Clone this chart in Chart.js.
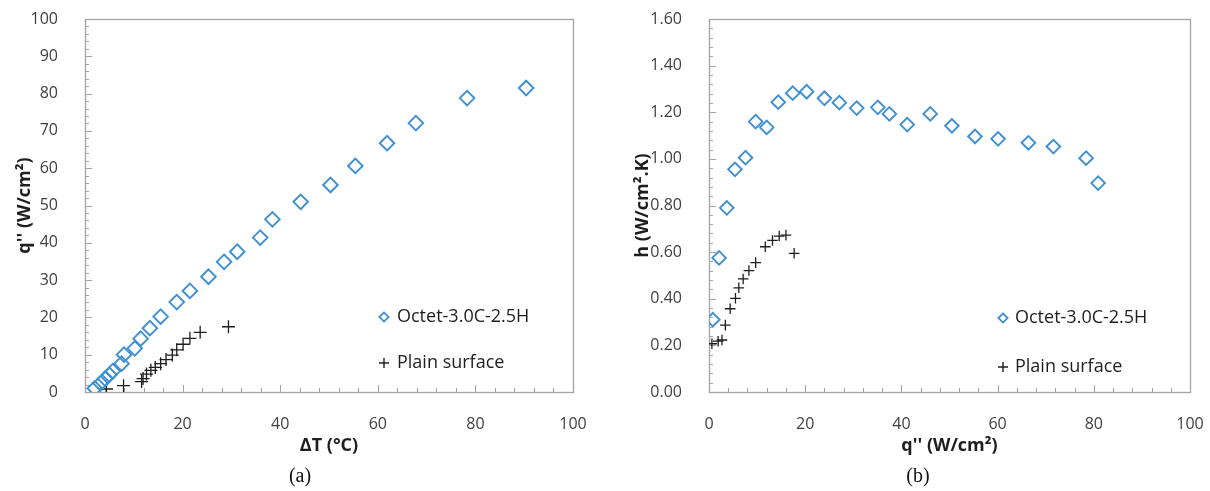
<!DOCTYPE html>
<html>
<head>
<meta charset="utf-8">
<script src="https://cdn.jsdelivr.net/npm/chart.js@4.4.1/dist/chart.umd.min.js"></script>
<style>
  html, body { margin: 0; padding: 0; background: #fff; }
  body { width: 1210px; height: 491px; position: relative; overflow: hidden; }
  canvas { position: absolute; top: 0; }
  #cA { left: 0; }
  #cB { left: 605px; }
  .cap { position: absolute; top: 464px; font-family: "Liberation Serif", "DejaVu Serif", serif; font-size: 20px; color: #111; transform: translateX(-50%); }
</style>
</head>
<body>
<canvas id="cA" width="605" height="491"></canvas>
<canvas id="cB" width="605" height="491"></canvas>
<div class="cap" style="left:300px">(a)</div>
<div class="cap" style="left:918px">(b)</div>
<script>
// ---------- data (a): q'' vs ΔT ----------
const octetDT = [2.0, 3.2, 4.1, 5.0, 5.7, 7.5, 8.0, 10.2, 11.4, 13.3, 15.5, 18.8, 21.5, 25.3, 28.5, 31.2, 35.9, 38.4, 44.2, 50.3, 55.4, 61.9, 67.8, 78.3, 90.4];
const octetQ  = [1.0, 2.3, 3.6, 4.6, 5.6, 7.6, 10.0, 11.7, 14.3, 17.1, 20.2, 24.1, 27.1, 30.9, 34.9, 37.6, 41.4, 46.3, 51.0, 55.5, 60.6, 66.7, 72.1, 78.8, 81.5];
const plainDT = [4.4, 7.9, 11.6, 11.9, 12.6, 13.5, 14.4, 15.5, 16.6, 17.9, 18.8, 20.1, 21.5, 23.6, 29.4];
const plainQ  = [0.8, 1.7, 2.8, 3.6, 4.8, 5.8, 6.6, 7.6, 8.7, 9.9, 11.3, 12.8, 14.4, 16.0, 17.5];

// ---------- data (b): h vs q'' ----------
const octetQb = [0.8, 2.1, 3.7, 5.4, 7.6, 9.7, 12.0, 14.4, 17.4, 20.3, 24.0, 27.1, 30.7, 35.1, 37.5, 41.2, 46.0, 50.5, 55.3, 60.1, 66.4, 71.6, 78.4, 80.9];
const octetH  = [0.31, 0.575, 0.79, 0.955, 1.005, 1.16, 1.135, 1.243, 1.282, 1.288, 1.26, 1.241, 1.218, 1.221, 1.193, 1.147, 1.193, 1.142, 1.096, 1.086, 1.069, 1.053, 1.003, 0.896];
const plainQb = [0.6, 1.9, 2.7, 3.4, 4.4, 5.5, 6.2, 7.1, 8.3, 9.7, 11.7, 13.2, 14.6, 16.0, 17.7];
const plainH  = [0.207, 0.218, 0.223, 0.287, 0.357, 0.402, 0.447, 0.485, 0.521, 0.555, 0.623, 0.65, 0.669, 0.673, 0.595];

// ---------- axes / labels ----------
const seriesNames = ["Octet-3.0C-2.5H", "Plain surface"];
const axisA = { xMin: 0, xMax: 100, xStep: 20, xMinor: 4, yMin: 0, yMax: 100, yStep: 10, yMinor: 2, decimals: 0 };
const axisB = { xMin: 0, xMax: 100, xStep: 20, xMinor: 4, yMin: 0, yMax: 1.6, yStep: 0.2, yMinor: 0.04, decimals: 2 };
const titlesA = { x: "ΔT (°C)", y: "q'' (W/cm²)" };
const titlesB = { x: "q'' (W/cm²)", y: "h (W/cm².K)" };

const BLUE = "#3f8fd4";
const INK = "#1e1e1e";
const FRAME = "#a3a3a3";
const FONT = "'Open Sans', 'Noto Sans', sans-serif";

function zip(xs, ys) { return xs.map((x, i) => ({ x: x, y: ys[i] })); }

const framePlugin = {
  id: 'frameTicks',
  beforeDatasetsDraw(chart, args, opts) {
    const { ctx, chartArea: a, scales } = chart;
    const ax = opts.axis;
    ctx.save();
    ctx.strokeStyle = FRAME;
    ctx.lineWidth = 1.3;
    ctx.strokeRect(Math.round(a.left) + 0.5, Math.round(a.top) + 0.5, Math.round(a.right - a.left), Math.round(a.bottom - a.top));
    ctx.lineWidth = 1;
    ctx.beginPath();
    const nx = Math.round((ax.xMax - ax.xMin) / ax.xMinor);
    for (let i = 1; i < nx; i++) {
      const v = ax.xMin + i * ax.xMinor;
      const px = Math.round(scales.x.getPixelForValue(v)) + 0.5;
      const major = Math.abs(v / ax.xStep - Math.round(v / ax.xStep)) < 1e-6;
      const L = major ? 7 : 4;
      ctx.moveTo(px, a.bottom);
      ctx.lineTo(px, a.bottom - L);
    }
    const ny = Math.round((ax.yMax - ax.yMin) / ax.yMinor);
    for (let i = 1; i < ny; i++) {
      const v = ax.yMin + i * ax.yMinor;
      const py = Math.round(scales.y.getPixelForValue(v)) + 0.5;
      const major = Math.abs(v / ax.yStep - Math.round(v / ax.yStep)) < 1e-6;
      const L = major ? 7 : 4;
      ctx.moveTo(a.left, py);
      ctx.lineTo(a.left + L, py);
    }
    ctx.stroke();
    ctx.restore();
  },
  afterDraw(chart, args, opts) {
    const { ctx, chartArea: a } = chart;
    const lg = opts.legend;
    ctx.save();
    ctx.font = "18px " + FONT;
    ctx.textBaseline = 'middle';
    ctx.textAlign = 'left';
    const x0 = a.right - lg.right;
    // diamond entry
    const y1 = a.bottom - lg.row1;
    ctx.fillStyle = 'rgba(0,0,0,0)';
    ctx.strokeStyle = BLUE;
    ctx.lineWidth = 1.8;
    Chart.helpers.drawPoint(ctx, { pointStyle: 'rectRot', radius: 4.6, rotation: 0, borderWidth: 1.8 }, x0, y1);
    ctx.fillStyle = INK;
    ctx.fillText(seriesNames[0], x0 + lg.gap, y1);
    // cross entry
    const y2 = a.bottom - lg.row2;
    ctx.strokeStyle = INK;
    ctx.lineWidth = 1.4;
    Chart.helpers.drawPoint(ctx, { pointStyle: 'cross', radius: 5, rotation: 0, borderWidth: 1.4 }, x0, y2);
    ctx.fillText(seriesNames[1], x0 + lg.gap, y2);
    ctx.restore();
  }
};

function makeChart(id, d1, d2, ax, titles, yWidth, padRight, titleOff, mk, legend) {
  return new Chart(document.getElementById(id), {
    type: 'scatter',
    data: {
      datasets: [
        { label: seriesNames[0], data: d1, pointStyle: 'rectRot', pointRadius: mk.d, pointHoverRadius: mk.d,
          borderColor: BLUE, backgroundColor: 'rgba(0,0,0,0)', pointBorderWidth: 1.9 },
        { label: seriesNames[1], data: d2, pointStyle: 'cross', pointRadius: mk.c, pointHoverRadius: mk.c,
          borderColor: INK, backgroundColor: INK, pointBorderWidth: 1.3 }
      ]
    },
    options: {
      responsive: false,
      animation: false,
      devicePixelRatio: 1,
      layout: { padding: { top: 19, right: padRight, bottom: 0, left: 0 } },
      plugins: {
        legend: { display: false },
        tooltip: { enabled: false },
        frameTicks: { axis: ax, legend: legend }
      },
      scales: {
        x: {
          type: 'linear', min: ax.xMin, max: ax.xMax,
          grid: { display: false }, border: { display: false },
          ticks: { stepSize: ax.xStep, padding: 15, color: '#404040', font: { family: FONT, size: 16 } },
          title: { display: true, text: titles.x, color: INK, font: { family: FONT, size: 18, weight: 'bold' }, padding: { top: 0, bottom: 34 } },
          afterFit(s) { s.height = 99; s.paddingLeft = 0; s.paddingRight = 0; s.paddingTop = 0; s.paddingBottom = 0; }
        },
        y: {
          type: 'linear', min: ax.yMin, max: ax.yMax,
          grid: { display: false }, border: { display: false },
          ticks: { stepSize: ax.yStep, padding: 19, color: '#404040', font: { family: FONT, size: 16 },
                   callback: (v) => Number(v).toFixed(ax.decimals) },
          title: { display: true, text: titles.y, color: INK, font: { family: FONT, size: 18, weight: 'bold' }, padding: { top: titleOff, bottom: 0 } },
          afterFit(s) { s.width = yWidth; s.paddingLeft = 0; s.paddingRight = 0; s.paddingTop = 0; s.paddingBottom = 0; }
        }
      }
    },
    plugins: [framePlugin]
  });
}

makeChart('cA', zip(octetDT, octetQ), zip(plainDT, plainQ), axisA, titlesA, 85, 32, 14,
          { d: 7.3, c: 6.5 }, { right: 189, row1: 75, row2: 29, gap: 13 });
makeChart('cB', zip(octetQb, octetH), zip(plainQb, plainH), axisB, titlesB, 104, 20, 27,
          { d: 6.8, c: 5.3 }, { right: 187, row1: 74, row2: 25, gap: 12 });
</script>
</body>
</html>
